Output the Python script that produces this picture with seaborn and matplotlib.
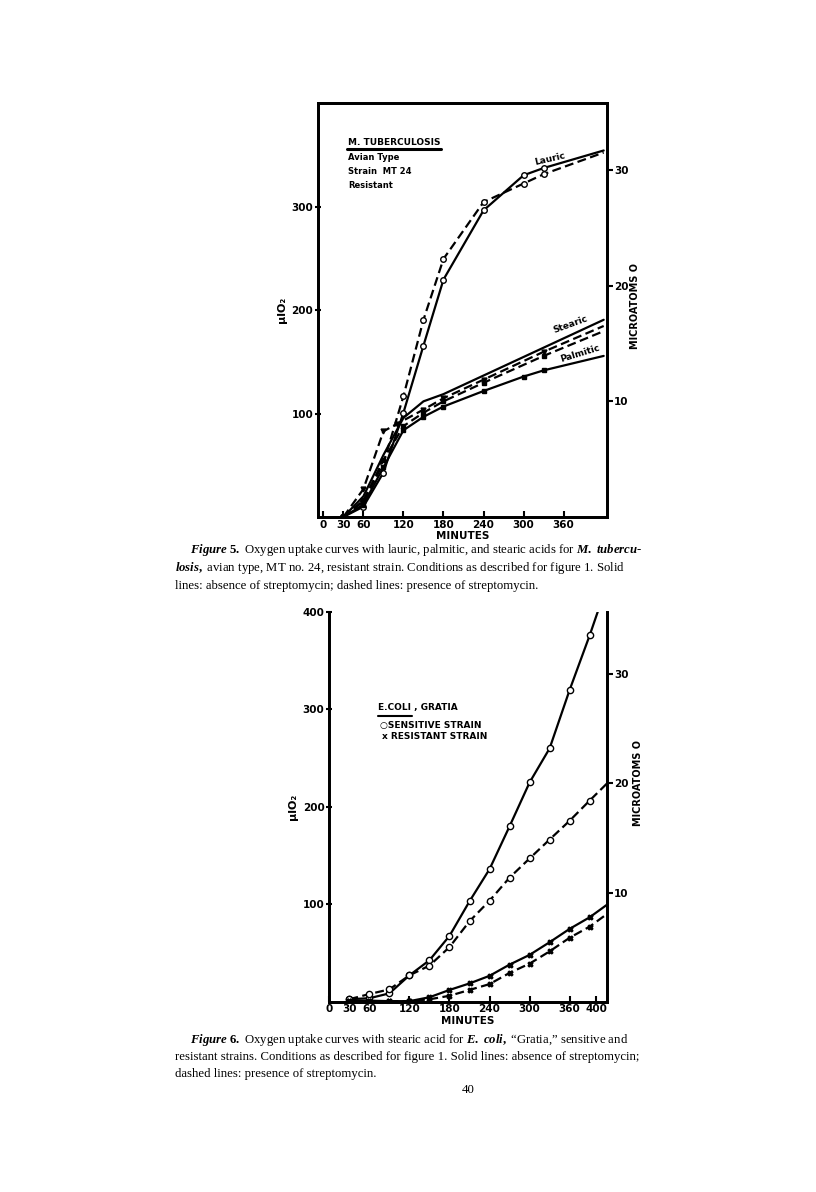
import numpy as np
import pandas as pd
import matplotlib
matplotlib.use("Agg")
import matplotlib.pyplot as plt
import seaborn as sns

# ---- Figure 5: M. tuberculosis (minutes vs ul O2) ----
LAURIC_T = [30, 60, 90, 120, 150, 180, 240, 300, 330, 420]
LAURIC_SOLID = [0, 10, 43, 101, 166, 230, 297, 331, 338, 355]
LAURIC_DASH = [0, 15, 52, 117, 191, 250, 305, 323, 332, 353]

STEARIC_SOLID_T = [30, 60, 90, 120, 150, 180, 420]
STEARIC_SOLID = [0, 20, 60, 96, 112, 119, 191]
STEARIC_DASH_T = [30, 60, 90, 110, 150, 180, 240, 330, 420]
STEARIC_DASH = [0, 27, 83, 90, 104, 115, 133, 160, 185]

PALMITIC_DASH_T = [30, 60, 90, 120, 150, 180, 240, 330, 420]
PALMITIC_DASH = [0, 16, 55, 88, 101, 112, 130, 156, 180]
PALMITIC_SOLID_T = [30, 60, 90, 120, 150, 180, 240, 300, 330, 420]
PALMITIC_SOLID = [0, 12, 48, 84, 97, 107, 122, 136, 142, 156]

X5_TICKS = [0, 30, 60, 120, 180, 240, 300, 360]
Y5_TICKS = [100, 200, 300]

# ---- Figure 6: E. coli Gratia, stearic acid ----
T6 = [30, 60, 90, 120, 150, 180, 210, 240, 270, 300, 330, 360, 390, 420]
SENS_SOLID = [2.5, 3.5, 8.5, 27, 42.5, 67.5, 103, 136, 180, 225, 260, 320, 376, 436]
T6_END = [30, 60, 90, 120, 150, 180, 210, 240, 270, 300, 330, 360, 390, 416]
SENS_DASH = [2.5, 7.8, 12.6, 27, 37, 56, 82.5, 103.6, 127.3, 147, 166.4, 185.7, 206.4, 224]
RES_SOLID = [1, 1, 0.5, 0.5, 4.5, 12, 18.7, 26.5, 38, 48, 61, 74.7, 86.6, 99.5]
RES_DASH = [0.5, 0.5, 0.5, 0.5, 2.4, 6, 12, 18, 29.5, 39, 51.6, 65.6, 77, 90]

X6_TICKS = [0, 30, 60, 120, 180, 240, 300, 360, 400]
Y6_TICKS = [100, 200, 300, 400]
MICRO_TICKS = [10, 20, 30]
UL_PER_MICROATOM = 11.2

CAPTION5 = [
    r"$\mathit{Figure\ 5.}$ Oxygen uptake curves with lauric, palmitic, and stearic acids for $\mathit{M.\ tubercu}$-",
    r"$\mathit{losis,}$ avian type, MT no. 24, resistant strain. Conditions as described for figure 1. Solid",
    "lines: absence of streptomycin; dashed lines: presence of streptomycin.",
]
CAPTION6 = [
    r"$\mathit{Figure\ 6.}$ Oxygen uptake curves with stearic acid for $\mathit{E.\ coli,}$ “Gratia,” sensitive and",
    "resistant strains. Conditions as described for figure 1. Solid lines: absence of streptomycin;",
    "dashed lines: presence of streptomycin.",
]

sns.set_style("ticks")
plt.rcParams["font.family"] = ["DejaVu Sans"]
plt.rcParams["font.weight"] = "bold"
plt.rcParams["text.color"] = "black"
plt.rcParams["axes.labelcolor"] = "black"
plt.rcParams["xtick.color"] = "black"
plt.rcParams["ytick.color"] = "black"
plt.rcParams["mathtext.fontset"] = "custom"
plt.rcParams["mathtext.it"] = "Liberation Serif:italic"
plt.rcParams["mathtext.rm"] = "Liberation Serif"

DASH = (0, (4, 2))


def curve(ax, t, v, ls="-", marker=None, ms=4, mfc="white", skip_last=True):
    n = len(t)
    every = list(range(n - 1)) if skip_last else None
    sns.lineplot(x=t, y=v, ax=ax, color="black", lw=1.6, ls=ls, marker=marker,
                 markersize=ms, markerfacecolor=mfc, markeredgecolor="black",
                 markeredgewidth=1.0, markevery=every, sort=False, estimator=None)


def style_axes(ax, xlim, ylim, xticks, yticks, right_label_pos, top=True):
    ax.set_xlim(*xlim)
    ax.set_ylim(*ylim)
    ax.set_xticks(xticks)
    ax.set_yticks(yticks)
    for s in ["left", "bottom", "right", "top"]:
        ax.spines[s].set_linewidth(2)
        ax.spines[s].set_color("black")
    ax.spines["top"].set_visible(top)
    ax.tick_params(axis="x", direction="in", length=4, width=1.5, labelsize=7.5, pad=2)
    ax.tick_params(axis="y", direction="inout", length=5, width=1.5, labelsize=7.5, pad=1)
    ax.set_xlabel("MINUTES", fontsize=7.5, fontweight="bold", labelpad=1)
    ax.set_ylabel("µlO₂", fontsize=8, fontweight="bold", labelpad=3)

    ax2 = ax.twinx()
    ax2.set_ylim(ylim[0] / UL_PER_MICROATOM, ylim[1] / UL_PER_MICROATOM)
    ax2.set_yticks(MICRO_TICKS)
    for s in ["left", "bottom", "right", "top"]:
        ax2.spines[s].set_linewidth(2)
        ax2.spines[s].set_color("black")
    ax2.spines["top"].set_visible(top)
    ax2.tick_params(axis="y", direction="out", length=4, width=1.5, labelsize=7.5, pad=1)
    ax2.set_ylabel("MICROATOMS O", fontsize=7, fontweight="bold", rotation=90)
    ax2.yaxis.set_label_coords(*right_label_pos)
    return ax2


fig = plt.figure(figsize=(8.16, 11.92), dpi=100)
fig.patch.set_facecolor("white")

# ---------------- Figure 5 ----------------
ax5 = fig.add_axes([0.3897, 0.5663, 0.3542, 0.3473])
curve(ax5, LAURIC_T, LAURIC_SOLID, "-", "o", 4)
curve(ax5, LAURIC_T, LAURIC_DASH, DASH, "o", 4)
curve(ax5, STEARIC_SOLID_T, STEARIC_SOLID, "-", None)
curve(ax5, STEARIC_DASH_T, STEARIC_DASH, DASH, "v", 3.5, "black")
curve(ax5, PALMITIC_DASH_T, PALMITIC_DASH, DASH, "s", 2.5, "black")
curve(ax5, PALMITIC_SOLID_T, PALMITIC_SOLID, "-", "s", 2.5, "black")
style_axes(ax5, (-8, 425), (0, 401), X5_TICKS, Y5_TICKS, (1.078, 0.51))

ax5.text(0.104, 0.905, "M. TUBERCULOSIS", transform=ax5.transAxes, fontsize=6.5,
         fontweight="bold", va="center")
ax5.plot([0.102, 0.425], [0.888, 0.888], transform=ax5.transAxes, color="black", lw=2.2)
for yy, s in zip([0.868, 0.834, 0.800], ["Avian Type", "Strain  MT 24", "Resistant"]):
    ax5.text(0.104, yy, s, transform=ax5.transAxes, fontsize=6, fontweight="bold", va="center")
ax5.text(340, 347, "Lauric", fontsize=6.5, fontweight="bold", rotation=13, ha="center", va="center")
ax5.text(371, 186, "Stearic", fontsize=6.5, fontweight="bold", rotation=20, ha="center", va="center")
ax5.text(385, 158, "Palmitic", fontsize=6.5, fontweight="bold", rotation=17, ha="center", va="center")

# ---------------- Figure 6 ----------------
ax6 = fig.add_axes([0.4036, 0.1597, 0.3403, 0.3269])
curve(ax6, T6, SENS_SOLID, "-", "o", 4.5)
curve(ax6, T6_END, SENS_DASH, DASH, "o", 4.5)
curve(ax6, T6_END, RES_SOLID, "-", "X", 3.5, "black")
curve(ax6, T6_END, RES_DASH, DASH, "X", 3.5, "black")
style_axes(ax6, (0, 416), (0, 400), X6_TICKS, Y6_TICKS, (1.095, 0.56), top=False)

ax6.text(0.176, 0.754, "E.COLI , GRATIA", transform=ax6.transAxes, fontsize=6.5,
         fontweight="bold", va="center")
ax6.plot([0.174, 0.297], [0.732, 0.732], transform=ax6.transAxes, color="black", lw=1.5)
ax6.text(0.183, 0.708, "○SENSITIVE STRAIN", transform=ax6.transAxes, fontsize=6.5,
         fontweight="bold", va="center")
ax6.text(0.190, 0.680, "x RESISTANT STRAIN", transform=ax6.transAxes, fontsize=6.5,
         fontweight="bold", va="center")

# ---------------- captions ----------------
cap_kw = dict(fontsize=9.2, family="Liberation Serif", fontweight="normal", va="center")
for i, line in enumerate(CAPTION5):
    x = 190 / 816 if i == 0 else 175 / 816
    fig.text(x, 1 - (550 + 18 * i) / 1192, line, **cap_kw)
for i, line in enumerate(CAPTION6):
    x = 190 / 816 if i == 0 else 175 / 816
    fig.text(x, 1 - (1040 + 17 * i) / 1192, line, **cap_kw)
fig.text(468 / 816, 1 - 1093 / 1192, "40", ha="center", **{k: v for k, v in cap_kw.items() if k != "va"})

fig.savefig("out.png", dpi=100, facecolor="white")
